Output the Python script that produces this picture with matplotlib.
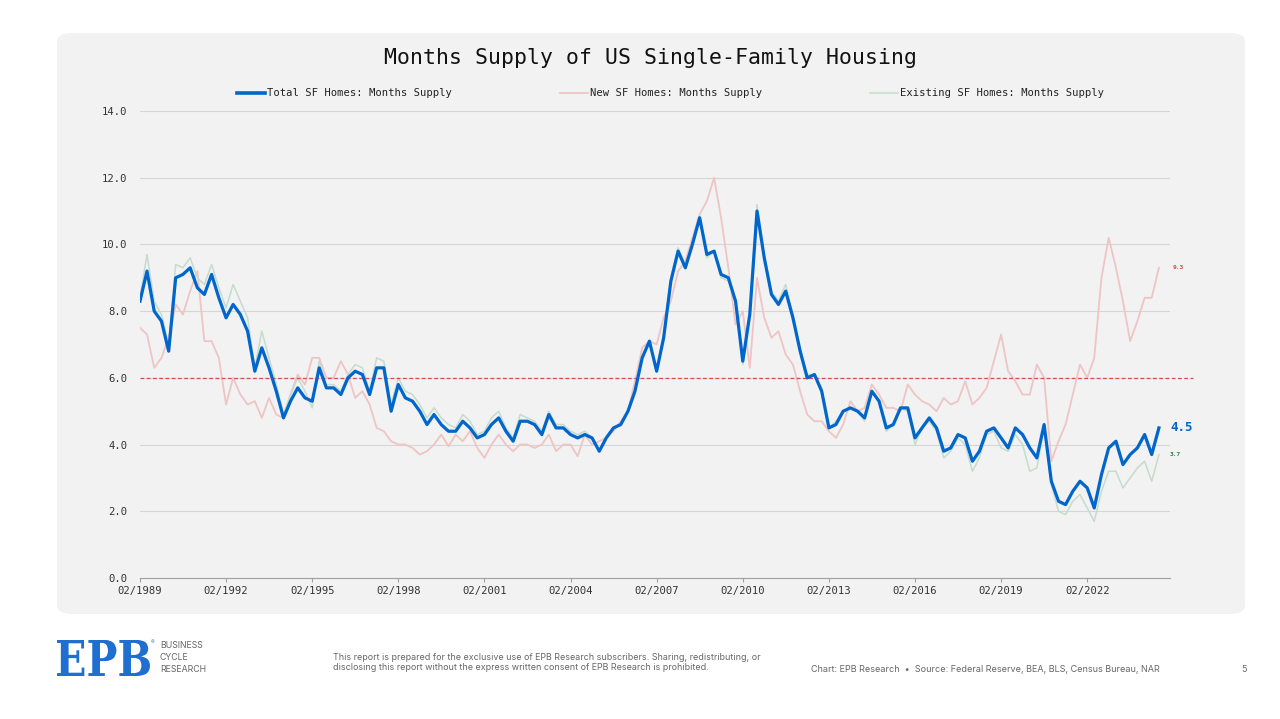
import matplotlib
matplotlib.use('Agg')
import matplotlib.pyplot as plt
import pandas as pd
import matplotlib.dates as mdates
from matplotlib.patches import FancyBboxPatch, PathPatch
from matplotlib.lines import Line2D
from matplotlib.textpath import TextPath
from matplotlib.font_manager import FontProperties
from matplotlib.transforms import Affine2D, IdentityTransform

# ---------------- data (quarterly readings, Feb 1989 - Aug 2024) ----------------
start_date = '1989-02-01'

total_supply = [
    8.3, 9.2, 8.0, 7.7, 6.8, 9.0, 9.1, 9.3, 8.7, 8.5,
    9.1, 8.4, 7.8, 8.2, 7.9, 7.4, 6.2, 6.9, 6.3, 5.6,
    4.8, 5.3, 5.7, 5.4, 5.3, 6.3, 5.7, 5.7, 5.5, 6.0,
    6.2, 6.1, 5.5, 6.3, 6.3, 5.0, 5.8, 5.4, 5.3, 5.0,
    4.6, 4.9, 4.6, 4.4, 4.4, 4.7, 4.5, 4.2, 4.3, 4.6,
    4.8, 4.4, 4.1, 4.7, 4.7, 4.6, 4.3, 4.9, 4.5, 4.5,
    4.3, 4.2, 4.3, 4.2, 3.8, 4.2, 4.5, 4.6, 5.0, 5.6,
    6.6, 7.1, 6.2, 7.2, 8.9, 9.8, 9.3, 10.0, 10.8, 9.7,
    9.8, 9.1, 9.0, 8.3, 6.5, 7.9, 11.0, 9.6, 8.5, 8.2,
    8.6, 7.8, 6.8, 6.0, 6.1, 5.6, 4.5, 4.6, 5.0, 5.1,
    5.0, 4.8, 5.6, 5.3, 4.5, 4.6, 5.1, 5.1, 4.2, 4.5,
    4.8, 4.5, 3.8, 3.9, 4.3, 4.2, 3.5, 3.8, 4.4, 4.5,
    4.2, 3.9, 4.5, 4.3, 3.9, 3.6, 4.6, 2.9, 2.3, 2.2,
    2.6, 2.9, 2.7, 2.1, 3.1, 3.9, 4.1, 3.4, 3.7, 3.9,
    4.3, 3.7, 4.5,
]

new_supply = [
    7.5, 7.3, 6.3, 6.6, 7.2, 8.2, 7.9, 8.6, 9.2, 7.1,
    7.1, 6.6, 5.2, 6.0, 5.5, 5.2, 5.3, 4.8, 5.4, 4.9,
    4.8, 5.5, 6.1, 5.8, 6.6, 6.6, 6.0, 6.0, 6.5, 6.1,
    5.4, 5.6, 5.2, 4.5, 4.4, 4.1, 4.0, 4.0, 3.9, 3.7,
    3.8, 4.0, 4.3, 3.95, 4.3, 4.1, 4.4, 3.9, 3.6, 4.0,
    4.3, 4.0, 3.8, 4.0, 4.0, 3.9, 4.0, 4.3, 3.8, 4.0,
    4.0, 3.65, 4.3, 4.0, 4.1, 4.2, 4.4, 4.7, 5.0, 5.9,
    6.9, 7.1, 7.0, 7.8, 8.3, 9.2, 9.5, 10.2, 10.9, 11.3,
    12.0, 10.8, 9.3, 7.6, 8.0, 6.3, 9.0, 7.8, 7.2, 7.4,
    6.7, 6.4, 5.6, 4.9, 4.7, 4.7, 4.4, 4.2, 4.6, 5.3,
    5.0, 5.1, 5.8, 5.5, 5.1, 5.1, 5.0, 5.8, 5.5, 5.3,
    5.2, 5.0, 5.4, 5.2, 5.3, 5.9, 5.2, 5.4, 5.7, 6.5,
    7.3, 6.2, 5.9, 5.5, 5.5, 6.4, 6.0, 3.5, 4.1, 4.6,
    5.5, 6.4, 6.0, 6.6, 9.0, 10.2, 9.3, 8.3, 7.1, 7.7,
    8.4, 8.4, 9.3,
]

existing_supply = [
    8.4, 9.7, 8.3, 7.9, 7.0, 9.4, 9.3, 9.6, 9.0, 8.8,
    9.4, 8.7, 8.1, 8.8, 8.3, 7.8, 6.3, 7.4, 6.6, 5.8,
    4.9, 5.5, 6.0, 5.6, 5.1, 6.5, 5.8, 5.8, 5.6, 6.1,
    6.4, 6.3, 5.6, 6.6, 6.5, 5.2, 6.0, 5.6, 5.5, 5.2,
    4.8, 5.1, 4.8, 4.6, 4.5, 4.9, 4.7, 4.3, 4.4, 4.8,
    5.0, 4.5, 4.2, 4.9, 4.8, 4.7, 4.4, 5.0, 4.6, 4.6,
    4.4, 4.3, 4.4, 4.2, 3.8, 4.2, 4.5, 4.6, 5.0, 5.6,
    6.6, 7.1, 6.2, 7.3, 9.0, 9.9, 9.4, 10.0, 10.8, 9.6,
    9.8, 9.0, 8.9, 8.3, 6.4, 8.0, 11.2, 9.7, 8.6, 8.3,
    8.8, 7.9, 6.9, 6.1, 6.1, 5.7, 4.5, 4.7, 5.0, 5.1,
    5.0, 4.7, 5.6, 5.3, 4.4, 4.6, 5.1, 5.0, 4.0, 4.5,
    4.7, 4.4, 3.6, 3.8, 4.2, 4.0, 3.2, 3.6, 4.3, 4.4,
    3.9, 3.8, 4.3, 4.0, 3.2, 3.3, 4.5, 2.8, 2.0, 1.9,
    2.3, 2.5, 2.1, 1.7, 2.6, 3.2, 3.2, 2.7, 3.0, 3.3,
    3.5, 2.9, 3.7,
]

reference_level = 6.0
tick_years = [1989, 1992, 1995, 1998, 2001, 2004, 2007, 2010, 2013, 2016, 2019, 2022]
y_ticks = [0, 2, 4, 6, 8, 10, 12, 14]

title = "Months Supply of US Single-Family Housing"
labels = ["Total SF Homes: Months Supply", "New SF Homes: Months Supply",
          "Existing SF Homes: Months Supply"]

# ---------------- styling ----------------
BLUE = '#0066cc'
PINK = '#efc4c4'
GREEN = '#c4dccc'
RED = '#d94a4a'
MONO = 'DejaVu Sans Mono'
SANS = ['Inter', 'DejaVu Sans']

W, H = 1280, 719
fig = plt.figure(figsize=(W / 100, H / 100), dpi=100)
fig.patch.set_facecolor('white')

def fx(x):
    return x / W

def fy(y):
    return 1 - y / H

# grey rounded panel (behind everything)
panel = FancyBboxPatch((fx(57), fy(614)), fx(1245) - fx(57), fy(33) - fy(614),
                       boxstyle="round,pad=0,rounding_size=0.012",
                       transform=fig.transFigure, facecolor='#f2f2f2',
                       edgecolor='none', zorder=-10)
fig.patches.append(panel)

ax = fig.add_axes([fx(140), fy(578), fx(1170) - fx(140), fy(111) - fy(578)])
ax.set_facecolor('none')
ax.set_zorder(1)

dates = pd.date_range(start_date, periods=len(total_supply), freq='3MS')

ax.plot(dates, new_supply, color=PINK, lw=1.3, zorder=2)
ax.plot(dates, existing_supply, color=GREEN, lw=1.1, zorder=3)
ax.plot(dates, total_supply, color=BLUE, lw=2.3, zorder=4, solid_joinstyle='round')

ax.axhline(reference_level, xmin=0, xmax=1.0225, color=RED, lw=0.9,
           ls=(0, (3, 2)), clip_on=False, zorder=3)

ax.set_ylim(0, 14)
ax.set_xlim(pd.Timestamp(start_date), pd.Timestamp('2024-12-20'))
ax.set_yticks(y_ticks)
ax.set_yticklabels([f"{v:.1f}" for v in y_ticks])
ax.set_xticks([pd.Timestamp(f'{y}-02-01') for y in tick_years])
ax.xaxis.set_major_formatter(mdates.DateFormatter('%m/%Y'))

ax.grid(axis='y', color='#d6d6d6', lw=0.8)
ax.set_axisbelow(True)
for s in ['top', 'right', 'left']:
    ax.spines[s].set_visible(False)
ax.spines['bottom'].set_color('#a0a0a0')
ax.spines['bottom'].set_linewidth(0.8)
ax.tick_params(axis='y', length=0, pad=9, labelsize=7.6, labelcolor='#333333')
ax.tick_params(axis='x', length=3, color='#a0a0a0', pad=3, labelsize=7.6,
               labelcolor='#333333')
for lab in ax.get_xticklabels() + ax.get_yticklabels():
    lab.set_family(MONO)

# end labels
last = dates[-1]
ax.annotate(f"{new_supply[-1]:.1f}", (last, new_supply[-1]), xytext=(10, 0),
            textcoords='offset points', color=RED, fontsize=4.5, fontweight='bold',
            family=MONO, va='center', ha='left', annotation_clip=False)
ax.annotate(f"{total_supply[-1]:.1f}", (last, total_supply[-1]), xytext=(8, 0),
            textcoords='offset points', color=BLUE, fontsize=9, fontweight='bold',
            family=MONO, va='center', ha='left', annotation_clip=False)
ax.annotate(f"{existing_supply[-1]:.1f}", (last, existing_supply[-1]), xytext=(8, 0),
            textcoords='offset points', color='#2e7d4f', fontsize=4.5, fontweight='bold',
            family=MONO, va='center', ha='left', annotation_clip=False)

# title
fig.text(fx(650), fy(58), title, ha='center', va='center', fontsize=15.5,
         family=MONO, color='#111111')

# legend (manual)
leg_y = fy(93)
for (x0, x1, tx), lab, col, lw in zip(
        [(237, 265, 267), (560, 588, 590), (870, 898, 900)], labels,
        [BLUE, PINK, GREEN], [2.6, 1.3, 1.1]):
    fig.add_artist(Line2D([fx(x0), fx(x1)], [leg_y, leg_y], color=col, lw=lw,
                          transform=fig.transFigure))
    fig.text(fx(tx), leg_y, lab, ha='left', va='center', fontsize=7.6,
             family=MONO, color='#222222')

# footer: logo
fp = FontProperties(family='DejaVu Serif', weight='bold')
tp = TextPath((0, 0), "EPB", size=1, prop=fp)
ext = tp.get_extents()
box_x0, box_x1 = 57, 150
box_yb, box_yt = H - 676, H - 640
sx = (box_x1 - box_x0) / ext.width
sy = (box_yt - box_yb) / ext.height
tr = Affine2D().translate(-ext.x0, -ext.y0).scale(sx, sy).translate(box_x0, box_yb)
fig.patches.append(PathPatch(tp, transform=tr + IdentityTransform(),
                             facecolor='#1f6fd0', edgecolor='none'))
fig.text(fx(151), fy(643), "®", fontsize=4, color='#1f6fd0', family=SANS,
         ha='left', va='center')
for i, word in enumerate(["BUSINESS", "CYCLE", "RESEARCH"]):
    fig.text(fx(160), fy(646 + 12 * i), word, fontsize=6.3, color='#666666',
             family=SANS, ha='left', va='center')

fig.text(fx(333), fy(657),
         "This report is prepared for the exclusive use of EPB Research subscribers. "
         "Sharing, redistributing, or", fontsize=6.45, color='#666666', family=SANS,
         ha='left', va='center')
fig.text(fx(333), fy(668),
         "disclosing this report without the express written consent of EPB Research "
         "is prohibited.", fontsize=6.45, color='#666666', family=SANS,
         ha='left', va='center')
fig.text(fx(811), fy(669),
         "Chart: EPB Research  \u2022  Source: Federal Reserve, BEA, BLS, Census Bureau, NAR",
         fontsize=6.5, color='#666666', family=SANS, ha='left', va='center')
fig.text(fx(1247), fy(669), "5", fontsize=6.5, color='#666666', family=SANS,
         ha='right', va='center')

fig.savefig('out.png', dpi=100)
